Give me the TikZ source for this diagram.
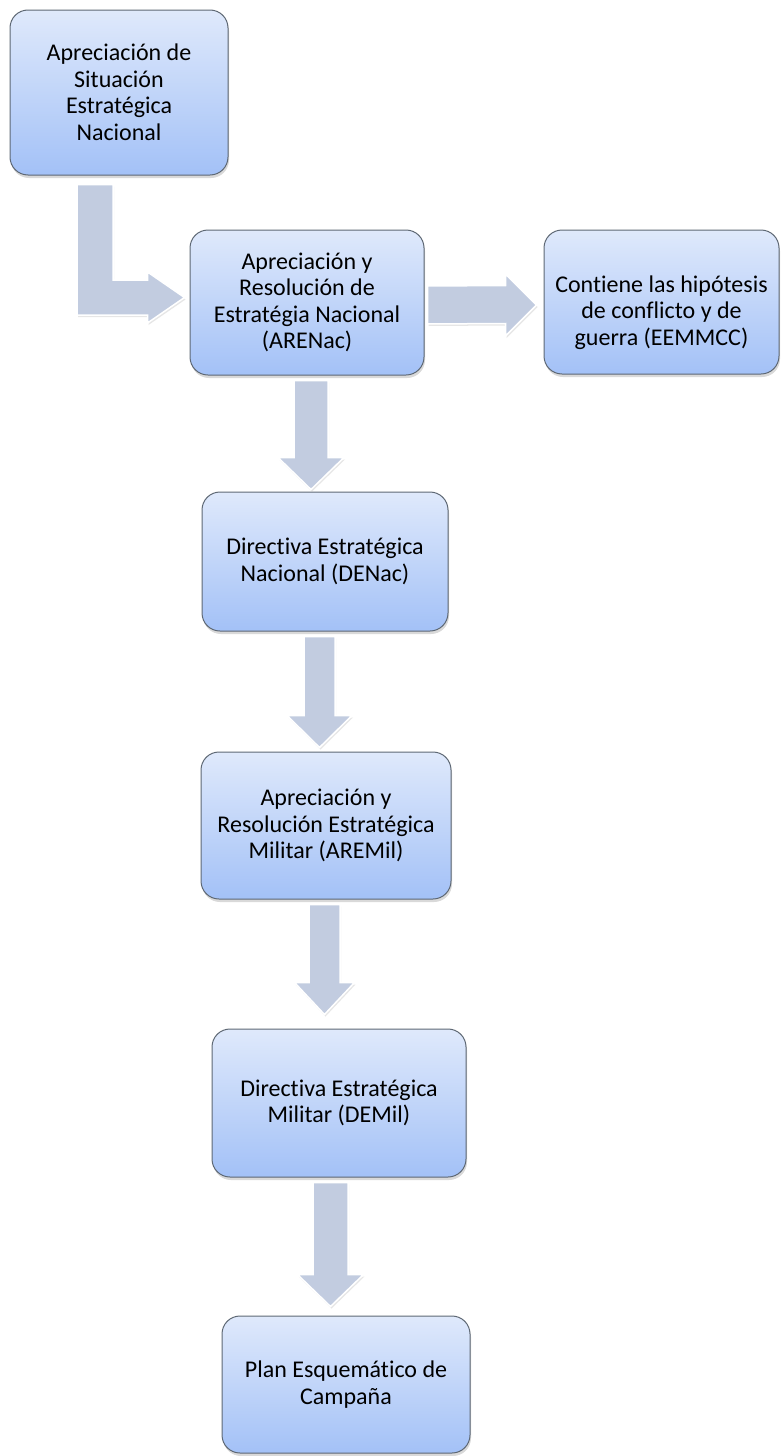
\documentclass[tikz,border=0pt]{standalone}
\usepackage{fontspec}
\setmainfont[Ligatures=NoCommon]{Carlito}
\usetikzlibrary{calc,shadows}

\definecolor{boxtop}{HTML}{DFE9FB}
\definecolor{boxbottom}{HTML}{A3C1F7}
\definecolor{boxline}{HTML}{5E6874}
\definecolor{arrowfill}{HTML}{C2CCE0}

% vertical block arrow: x, from, to, half shaft, half head, tip gap
\newcommand{\vblock}[6]{%
  \coordinate (vs) at (#1,0 |- #2.south);
  \coordinate (ve) at (#1,0 |- #3.north);
  \draw[blockarrow] ($(vs)+(-#4,5)$) -- ($(vs)+(#4,5)$) -- ($(ve)+(#4,-#6-32)$)
    -- ($(ve)+(#5,-#6-32)$) -- ($(ve)+(0,-#6)$) -- ($(ve)+(-#5,-#6-32)$)
    -- ($(ve)+(-#4,-#6-32)$) -- cycle;
}

\begin{document}
\begin{tikzpicture}[
    x=1pt, y=-1pt,
    box/.style={rectangle, draw=boxline, line width=1pt, rounded corners=18pt,
      top color=boxtop, bottom color=boxbottom, align=center, inner sep=2pt,
      font=\fontsize{24}{26.5}\selectfont,
      drop shadow={shadow xshift=1pt, shadow yshift=-3pt, opacity=0.3}},
    blockarrow/.style={fill=arrowfill, draw=white, line width=1.5pt, line join=miter,
      drop shadow={shadow xshift=1pt, shadow yshift=-2pt, opacity=0.2}}
]
    \useasboundingbox (0,0) rectangle (781,1456);

    % Boxes
    \node[box, minimum width=218pt, minimum height=165pt] (situacion) at (119,92.5)
      {Apreciación de\\Situación\\Estratégica\\Nacional};
    \node[box, minimum width=234pt, minimum height=145pt] (arenac) at (307,302.5)
      {Apreciación y\\Resolución de\\Estratégia Nacional\\(ARENac)};
    \node[box, minimum width=235pt, minimum height=144pt] (hipotesis) at (661.5,302)
      {\rule{0pt}{38pt}Contiene las hipótesis\\de conflicto y de\\guerra (EEMMCC)};
    \node[box, minimum width=246pt, minimum height=139pt] (denac) at (325,561.5)
      {Directiva Estratégica\\Nacional (DENac)};
    \node[box, minimum width=250pt, minimum height=147pt] (aremil) at (326,825.5)
      {Apreciación y\\Resolución Estratégica\\Militar (AREMil)};
    \node[box, minimum width=254pt, minimum height=148pt] (demil) at (339,1103)
      {Directiva Estratégica\\Militar (DEMil)};
    \node[box, minimum width=248pt, minimum height=137pt] (plan) at (346,1384.5)
      {Plan Esquemático de\\Campaña};

    % Elbow arrow
    \coordinate (lt) at ($(situacion.south)+(-24,9)$);
    \coordinate (lh) at ($(arenac.west)+(-5,-5)$);
    \draw[blockarrow] ($(lt)+(-18,0)$) -- ($(lt)+(18,0)$) -- ($(lt |- lh)+(18,-17.5)$)
      -- ($(lh)+(-37,-17.5)$) -- ($(lh)+(-37,-25.5)$) -- (lh) -- ($(lh)+(-37,25.5)$)
      -- ($(lh)+(-37,17.5)$) -- ($(lt |- lh)+(-18,17.5)$) -- cycle;

    % Side arrow
    \draw[blockarrow] ($(arenac.east)+(3,-16.5)$) -- ($(hipotesis.west)+(-38,-16.5)$)
      -- ($(hipotesis.west)+(-38,-28)$) -- ($(hipotesis.west)+(-7,3)$)
      -- ($(hipotesis.west)+(-38,34)$) -- ($(hipotesis.west)+(-38,21.5)$)
      -- ($(arenac.east)+(3,21.5)$) -- cycle;

    % Down arrows
    \vblock{311}{arenac}{denac}{17}{33}{2}
    \vblock{319.5}{denac}{aremil}{15.5}{32.5}{4}
    \vblock{324.5}{aremil}{demil}{15.5}{30}{14}
    \vblock{330.5}{demil}{plan}{17.5}{33}{9}
\end{tikzpicture}
\end{document}
